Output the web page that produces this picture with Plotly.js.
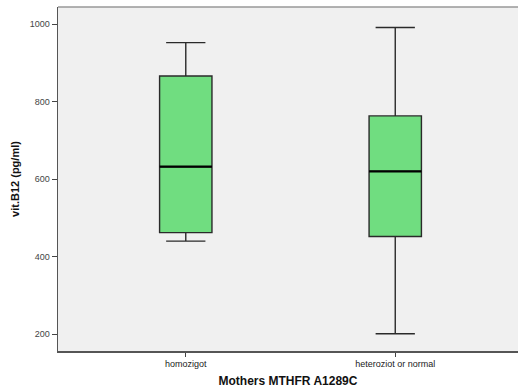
<!DOCTYPE html>
<html><head><meta charset="utf-8">
<script src="https://cdn.plot.ly/plotly-3.0.1.min.js"></script>
<style>body{margin:0;background:#fff}#c{width:519px;height:390px}</style>
</head><body><div id="c"></div>
<script>
var categories = ["homozigot", "heteroziot or normal"];
var lowerWhisker = [440, 201];
var q1 = [462, 452];
var median = [632, 620];
var q3 = [866, 763];
var upperWhisker = [952, 991];
var yTicks = [200, 400, 600, 800, 1000];

var boxWidth = 0.25;
var positions = categories.map(function(c, i){ return i; });
var trace = {
  type: 'box',
  x: positions,
  q1: q1, median: median, q3: q3,
  lowerfence: lowerWhisker, upperfence: upperWhisker,
  width: boxWidth,
  whiskerwidth: 0.75,
  fillcolor: '#70dd80',
  line: {color: '#2a2a2a', width: 1.4},
  boxpoints: false,
  hoverinfo: 'none',
  showlegend: false
};
var mx = [], my = [];
positions.forEach(function(p, i){
  mx.push(p - boxWidth/2, p + boxWidth/2, null);
  my.push(median[i], median[i], null);
});
var medTrace = {
  type: 'scatter', mode: 'lines', x: mx, y: my,
  line: {color: '#000', width: 2.2}, hoverinfo: 'none', showlegend: false
};
var layout = {
  width: 519, height: 390,
  margin: {l: 58, r: 1, t: 7, b: 39},
  paper_bgcolor: '#ffffff',
  plot_bgcolor: '#f0f0f0',
  font: {family: 'Arial, Liberation Sans, sans-serif', color: '#333'},
  xaxis: {
    range: [-0.61, 1.586],
    tickvals: positions, ticktext: categories,
    ticks: 'outside', ticklen: 4, tickcolor: '#444',
    tickfont: {size: 9, color: '#222'},
    showgrid: false, zeroline: false,
    showline: true, linecolor: '#555', linewidth: 1.5,
    title: {text: '<b>Mothers MTHFR A1289C</b>', font: {size: 12, color: '#111'}, standoff: 8}
  },
  yaxis: {
    range: [156.5, 1044],
    tickvals: yTicks,
    ticks: 'outside', ticklen: 5, tickcolor: '#444',
    tickfont: {size: 9, color: '#444'},
    showgrid: false, zeroline: false,
    showline: true, linecolor: '#555', linewidth: 1.5,
    title: {text: '<b>vit.B12 (pg/ml)</b>', font: {size: 11, color: '#111'}, standoff: 8}
  },
  shapes: [{type: 'line', xref: 'paper', yref: 'paper', x0: 0, x1: 1, y0: 1, y1: 1,
            line: {color: '#999', width: 1.5}}]
};
Plotly.newPlot('c', [trace, medTrace], layout, {staticPlot: true, displayModeBar: false});
</script></body></html>
